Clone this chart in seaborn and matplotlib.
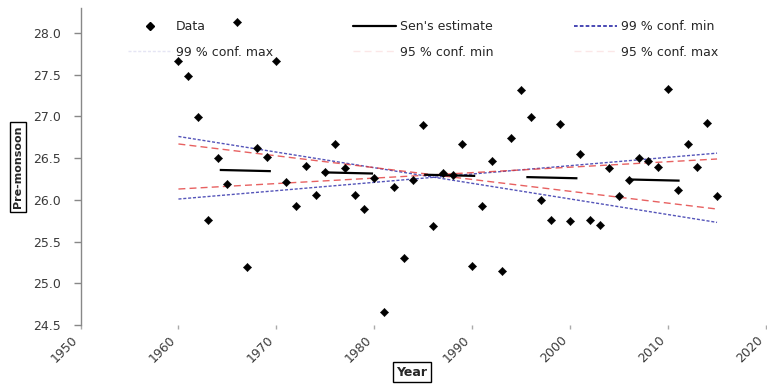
import matplotlib
matplotlib.use("Agg")
import matplotlib.pyplot as plt
from matplotlib.lines import Line2D
from matplotlib.ticker import FormatStrFormatter
import numpy as np
import seaborn as sns

# Pre-monsoon series, one value per year
years = list(range(1960, 2016))
premonsoon = [27.66, 27.48, 26.99, 25.76, 26.50, 26.19, 28.13, 25.19, 26.62, 26.51,
              27.66, 26.22, 25.93, 26.41, 26.06, 26.33, 26.67, 26.38, 26.06, 25.89,
              26.26, 24.66, 26.16, 25.30, 26.24, 26.90, 25.69, 26.32, 26.30, 26.67,
              25.21, 25.93, 26.47, 25.15, 26.74, 27.32, 26.99, 26.00, 25.76, 26.91,
              25.75, 26.55, 25.76, 25.70, 26.38, 26.05, 26.24, 26.50, 26.47, 26.39,
              27.33, 26.12, 26.67, 26.39, 26.92, 26.05]

# Sen's slope trend and confidence lines (values at first and last year)
trend_years = [1960, 2015]
sen_estimate = [26.37, 26.22]
conf99_min = [26.76, 25.73]
conf99_max = [26.01, 26.56]
conf95_min = [26.67, 25.89]
conf95_max = [26.13, 26.49]

x_ticks = [1950, 1960, 1970, 1980, 1990, 2000, 2010, 2020]
y_ticks = [24.5, 25.0, 25.5, 26.0, 26.5, 27.0, 27.5, 28.0]

sns.set_style("white")
plt.rcParams["font.family"] = ["DejaVu Sans"]

W, H = 767, 390
AX_L, AX_R, AX_T, AX_B = 80.5, 766.0, 8.0, 325.0
AX_W, AX_H = AX_R - AX_L, AX_B - AX_T
fig = plt.figure(figsize=(W / 100, H / 100), dpi=100)
ax = fig.add_axes([AX_L / W, (H - AX_B) / H, AX_W / W, AX_H / H])

blue = "#2a2aa8"
red = "#e23a3a"
blue_ls = (0, (2.2, 1.3))
red_ls = (0, (5, 3))

sns.lineplot(x=trend_years, y=conf99_min, ax=ax, color=blue, lw=1.0, linestyle=blue_ls, alpha=0.8)
sns.lineplot(x=trend_years, y=conf99_max, ax=ax, color=blue, lw=1.0, linestyle=blue_ls, alpha=0.8)
sns.lineplot(x=trend_years, y=conf95_min, ax=ax, color=red, lw=1.0, linestyle=red_ls, alpha=0.8)
sns.lineplot(x=trend_years, y=conf95_max, ax=ax, color=red, lw=1.0, linestyle=red_ls, alpha=0.8)
sns.lineplot(x=trend_years, y=sen_estimate, ax=ax, color="black", lw=1.6,
             linestyle=(27.4, (23, 23)))

sns.scatterplot(x=years, y=premonsoon, ax=ax, marker="D", s=18, color="black",
                edgecolor="black", linewidth=0.3, legend=False, zorder=3)

ax.set_xlim(1950, 2020)
ax.set_ylim(24.5, 28.3)
ax.set_xticks(x_ticks)
ax.set_yticks(y_ticks)
ax.yaxis.set_major_formatter(FormatStrFormatter("%.1f"))
ax.tick_params(axis="y", left=True, length=5, width=1, color="#888888",
               labelsize=9, labelcolor="#3a3a3a", pad=9)
ax.tick_params(axis="x", bottom=True, length=3, width=1, color="#aaaaaa",
               labelsize=9, labelcolor="#3a3a3a", pad=3)
for lbl in ax.get_xticklabels():
    lbl.set_rotation(45)
    lbl.set_ha("right")

sns.despine(ax=ax, bottom=True)
ax.spines["left"].set_color("#888888")
ax.spines["left"].set_linewidth(1.0)

box = dict(boxstyle="square,pad=0.3", fc="white", ec="black", lw=1.0)
ax.set_ylabel("Pre-monsoon", fontsize=8, fontweight="bold", bbox=box)
ax.yaxis.set_label_coords((18 - AX_L) / AX_W, (AX_B - 167) / AX_H)
ax.yaxis.label.set_va("center")
ax.set_xlabel("Year", fontsize=9, fontweight="bold", bbox=box)
ax.xaxis.set_label_coords((412 - AX_L) / AX_W, (AX_B - 372) / AX_H)
ax.xaxis.label.set_va("center")

h_data = Line2D([], [], marker="D", ls="none", color="black", markersize=4)
h_sen = Line2D([], [], color="black", lw=1.6)
h_99min = Line2D([], [], color=blue, lw=1.2, ls=blue_ls)
h_99max = Line2D([], [], color=blue, lw=1.0, ls=blue_ls, alpha=0.12)
h_95min = Line2D([], [], color=red, lw=1.0, ls=red_ls, alpha=0.12)
h_95max = Line2D([], [], color=red, lw=1.0, ls=red_ls, alpha=0.12)

# matplotlib fills legend columns first, so interleave to read row-wise
handles = [h_data, h_99max, h_sen, h_95min, h_99min, h_95max]
labels = ["Data", "99 % conf. max", "Sen's estimate", "95 % conf. min",
          "99 % conf. min", "95 % conf. max"]
ax.legend(handles, labels, ncol=3, loc="upper left",
          bbox_to_anchor=(128 / W, 1 - 20 / H), bbox_transform=fig.transFigure,
          frameon=False, handlelength=3.5, handletextpad=0.3, columnspacing=6.4,
          labelspacing=1.0, borderpad=0, borderaxespad=0, fontsize=9, numpoints=1)

fig.savefig("out.png", dpi=100)
